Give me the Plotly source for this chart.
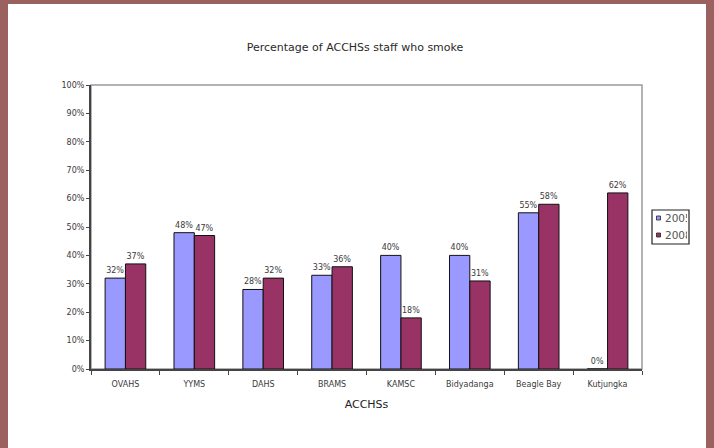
import plotly.graph_objects as go

categories = ["OVAHS", "YYMS", "DAHS", "BRAMS", "KAMSC", "Bidyadanga", "Beagle Bay", "Kutjungka"]
series_names = ["2005", "2008"]
values_2005 = [32, 48, 28, 33, 40, 40, 55, 0]
values_2008 = [37, 47, 32, 36, 18, 31, 58, 62]
y_ticks = list(range(0, 101, 10))

colors = ["#9999ff", "#993366"]
W, H = 714, 448
L, R, T, B = 91, 642, 85, 369  # plot area in px

def px_x(px):
    return (px - L) / (R - L)

def px_y(py):
    return (B - py) / (B - T)

font_fam = "DejaVu Sans, Verdana, sans-serif"
txt_col = "#3a3a3a"

fig = go.Figure()
for name, vals, col in zip(series_names, [values_2005, values_2008], colors):
    fig.add_trace(go.Bar(
        x=categories, y=vals, name=name,
        marker=dict(color=col, line=dict(color="#111111", width=1)),
        text=[f"{v}%" for v in vals], textposition="outside",
        textfont=dict(size=8, color=txt_col, family=font_fam),
        cliponaxis=False, showlegend=False,
    ))

shapes = [
    dict(type="rect", xref="paper", yref="paper", layer="below",
         x0=px_x(8), x1=px_x(706), y0=px_y(H + 5), y1=px_y(4),
         fillcolor="white", line=dict(width=0)),
    dict(type="rect", xref="paper", yref="paper", layer="below",
         x0=0, x1=1, y0=0, y1=1, fillcolor="white",
         line=dict(color="#9a9a9a", width=1.5)),
    dict(type="rect", xref="paper", yref="paper",
         x0=px_x(652), x1=px_x(689), y0=px_y(244), y1=px_y(210),
         fillcolor="white", line=dict(color="#222222", width=1.2)),
]
annotations = []
for i, (name, col) in enumerate(zip(series_names, colors)):
    cy = 218 + i * 17
    shapes.append(dict(type="rect", xref="paper", yref="paper",
                       x0=px_x(656.5), x1=px_x(660.5), y0=px_y(cy + 2), y1=px_y(cy - 2),
                       fillcolor=col, line=dict(color="#222222", width=0.8)))
    annotations.append(dict(xref="paper", yref="paper", x=px_x(664), y=px_y(cy),
                            xanchor="left", yanchor="middle", text=name, showarrow=False,
                            width=22, align="left", borderpad=0,
                            font=dict(size=10.5, color="#555555", family=font_fam)))

fig.update_layout(
    width=W, height=H,
    margin=dict(l=L, r=W - R, t=T, b=H - B, pad=0),
    paper_bgcolor="#9a615e", plot_bgcolor="white",
    barmode="group", bargap=0.41, bargroupgap=0,
    title=dict(text="Percentage of ACCHSs staff who smoke", x=355 / W,
               xanchor="center", y=1 - 47 / H, yanchor="middle",
               font=dict(size=11, color="#2a2a2a", family=font_fam)),
    xaxis=dict(type="category", showline=True, linecolor="#444444", linewidth=2,
               ticks="outside", tickson="boundaries", ticklen=4, tickcolor="#444444",
               ticklabelstandoff=6,
               tickfont=dict(size=8, color=txt_col, family=font_fam),
               title=dict(text="ACCHSs", standoff=13,
                          font=dict(size=11, color="#222222", family=font_fam)),
               showgrid=False, zeroline=False),
    yaxis=dict(range=[0, 100], tickvals=y_ticks, ticktext=[f"{v}%" for v in y_ticks],
               showline=True, linecolor="#444444", linewidth=2,
               ticks="outside", ticklen=3, tickcolor="#444444",
               tickfont=dict(size=8, color=txt_col, family=font_fam),
               showgrid=False, zeroline=False),
    shapes=shapes, annotations=annotations,
    font=dict(family=font_fam),
)

fig.write_html("out.html")
